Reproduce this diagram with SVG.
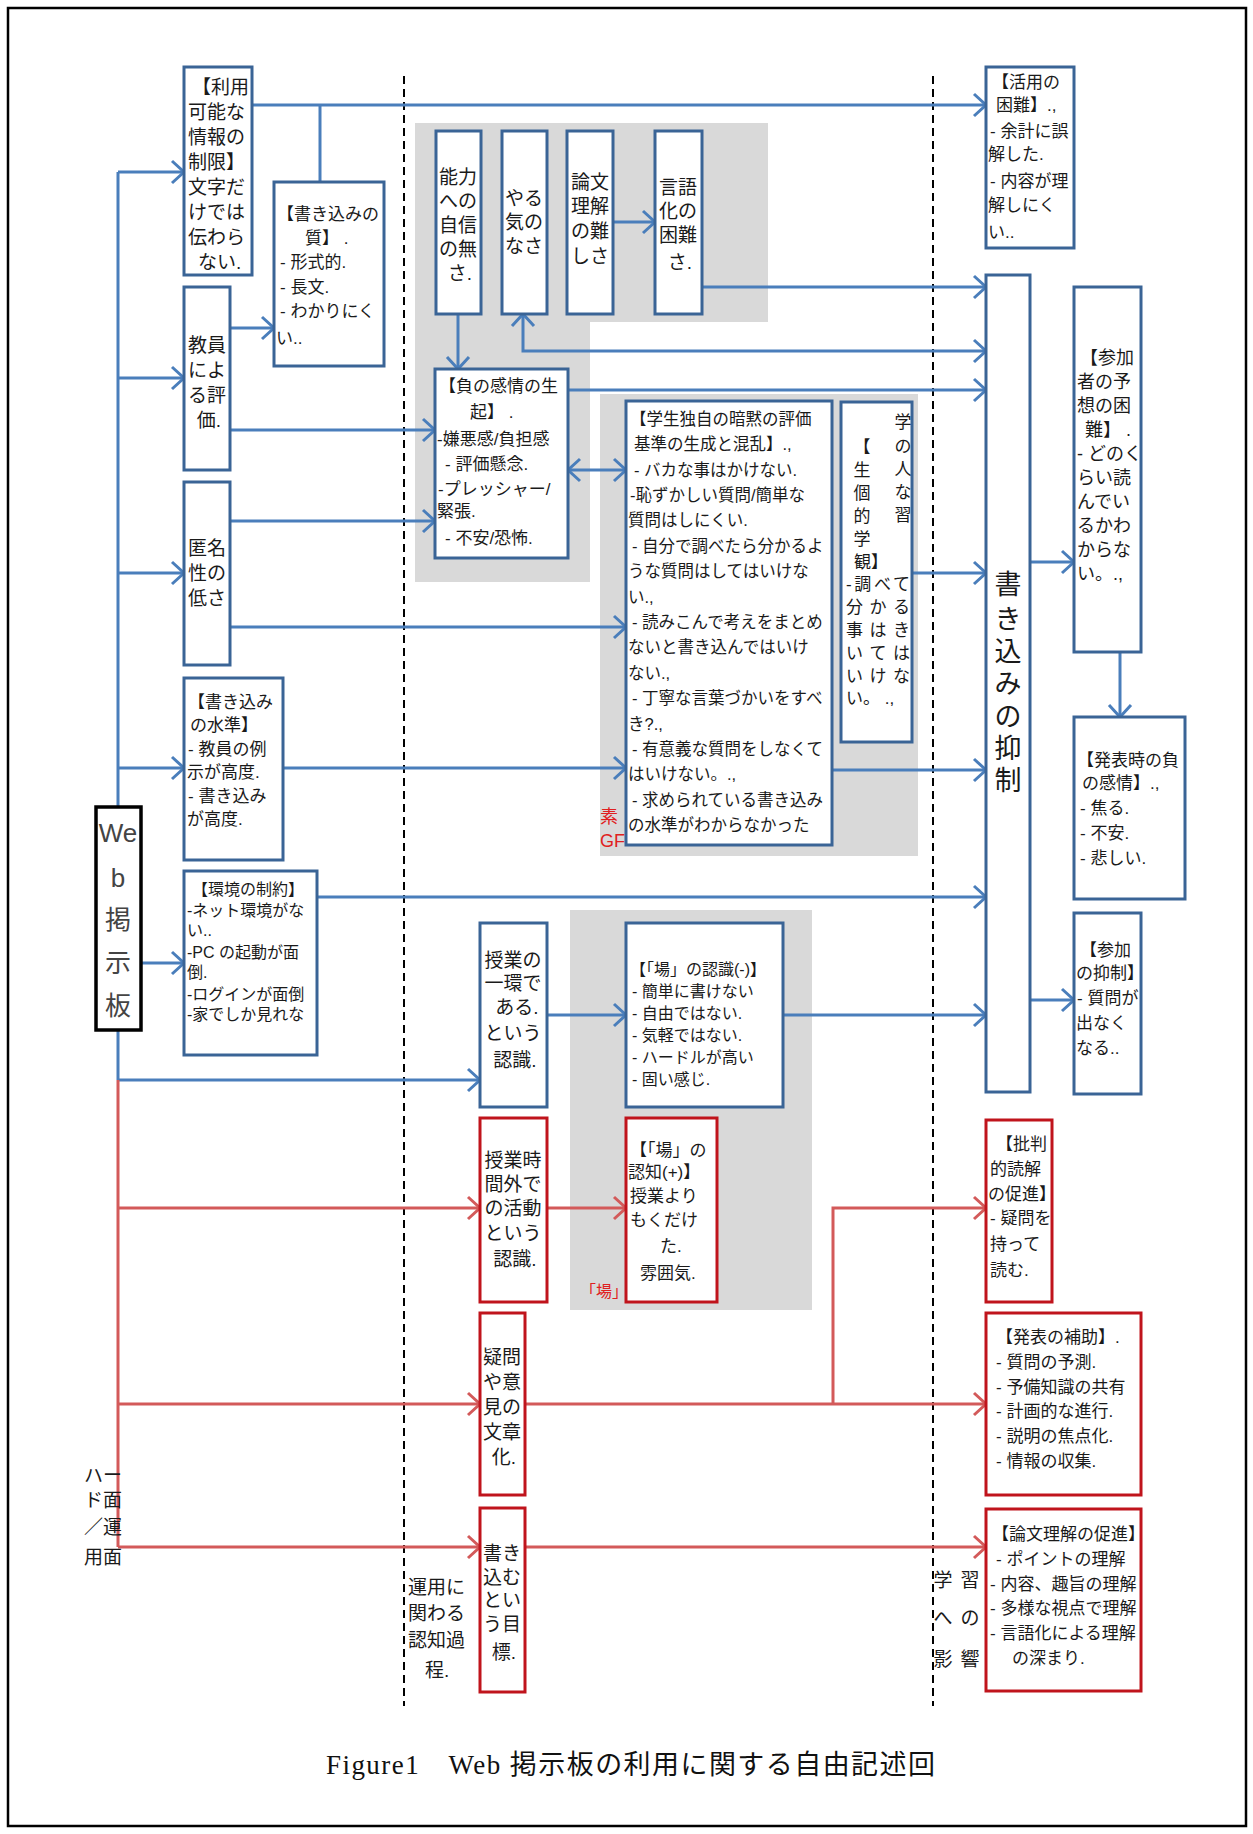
<svg xmlns="http://www.w3.org/2000/svg" width="1253" height="1834" viewBox="0 0 1253 1834">
<style>
.bb{fill:#fff;stroke:#3a6496;stroke-width:3}
.rb{fill:#fff;stroke:#c0141c;stroke-width:3}
.gr{fill:#d9d9d9}
.bl{fill:none;stroke:#4a7ebb;stroke-width:3}
.rl{fill:none;stroke:#d35a5a;stroke-width:3}
.t{font-family:"Liberation Sans","Noto Sans CJK JP",sans-serif;font-size:17px;fill:#1a1a1a}
.s19{font-size:19px}
.s16{font-size:16px}
.c{text-anchor:middle}
.red{fill:#e02020}
</style>
<defs>
<marker id="ab" markerUnits="userSpaceOnUse" markerWidth="18" markerHeight="26" refX="14" refY="13" orient="auto-start-reverse"><path d="M2,2 L14,13 L2,24" fill="none" stroke="#4a7ebb" stroke-width="3"/></marker>
<marker id="ar" markerUnits="userSpaceOnUse" markerWidth="18" markerHeight="26" refX="14" refY="13" orient="auto-start-reverse"><path d="M2,2 L14,13 L2,24" fill="none" stroke="#d35a5a" stroke-width="3"/></marker>
<clipPath id="cEnv"><rect x="185" y="872" width="131" height="182"/></clipPath>
<clipPath id="cRon"><rect x="987" y="1510" width="153" height="180"/></clipPath>
<clipPath id="cHih"><rect x="987" y="1121" width="64" height="180"/></clipPath>
<clipPath id="cSan"><rect x="1075" y="914" width="65" height="179"/></clipPath>
<clipPath id="cGak"><rect x="627" y="402" width="204" height="442"/></clipPath>
</defs>
<rect x="8" y="8" width="1238" height="1818" fill="#fff" stroke="#000" stroke-width="2.5"/>

<g id="backgrounds">
<path class="gr" d="M415,123 H768 V322 H590 V582 H415 Z"/>
<rect class="gr" x="600" y="394" width="318" height="462"/>
<rect class="gr" x="570" y="910" width="242" height="400"/>
</g>

<g id="dividers" stroke="#000" stroke-width="2" stroke-dasharray="8,5">
<line x1="404" y1="76" x2="404" y2="1706"/>
<line x1="933" y1="76" x2="933" y2="1706"/>
</g>

<g id="hidden-labels">
<text class="t red" x="600" y="823" style="font-size:18px">素</text>
<text class="t red" x="600" y="847" style="font-size:18px">GF</text>
<text class="t red" x="580" y="1297" style="font-size:16px">「場」</text>
</g>

<g id="connectors">
<path class="bl" d="M118,172 V1080"/>
<path class="bl" d="M118,172 H184" marker-end="url(#ab)"/>
<path class="bl" d="M118,378 H184" marker-end="url(#ab)"/>
<path class="bl" d="M118,573 H184" marker-end="url(#ab)"/>
<path class="bl" d="M118,768 H184" marker-end="url(#ab)"/>
<path class="bl" d="M141,963 H184" marker-end="url(#ab)"/>
<path class="bl" d="M118,1080 H480" marker-end="url(#ab)"/>
<path class="bl" d="M252,105 H986" marker-end="url(#ab)"/>
<path class="bl" d="M320,105 V182"/>
<path class="bl" d="M230,328 H274" marker-end="url(#ab)"/>
<path class="bl" d="M230,430 H435" marker-end="url(#ab)"/>
<path class="bl" d="M230,521 H435" marker-end="url(#ab)"/>
<path class="bl" d="M230,627 H626" marker-end="url(#ab)"/>
<path class="bl" d="M283,768 H626" marker-end="url(#ab)"/>
<path class="bl" d="M317,897 H986" marker-end="url(#ab)"/>
<path class="bl" d="M547,1015 H626" marker-end="url(#ab)"/>
<path class="bl" d="M783,1015 H986" marker-end="url(#ab)"/>
<path class="bl" d="M613,222 H655" marker-end="url(#ab)"/>
<path class="bl" d="M702,287 H986" marker-end="url(#ab)"/>
<path class="bl" d="M458,314 V369" marker-end="url(#ab)"/>
<path class="bl" d="M523,314 V351 H986" marker-start="url(#ab)" marker-end="url(#ab)"/>
<path class="bl" d="M568,390 H986" marker-end="url(#ab)"/>
<path class="bl" d="M568,470 H626" marker-start="url(#ab)" marker-end="url(#ab)"/>
<path class="bl" d="M912,573 H986" marker-end="url(#ab)"/>
<path class="bl" d="M832,770 H986" marker-end="url(#ab)"/>
<path class="bl" d="M1030,562 H1074" marker-end="url(#ab)"/>
<path class="bl" d="M1120,652 V717" marker-end="url(#ab)"/>
<path class="bl" d="M1030,1000 H1074" marker-end="url(#ab)"/>
<path class="rl" d="M118,1080 V1547"/>
<path class="rl" d="M118,1208 H480" marker-end="url(#ar)"/>
<path class="rl" d="M547,1208 H626" marker-end="url(#ar)"/>
<path class="rl" d="M118,1404 H480" marker-end="url(#ar)"/>
<path class="rl" d="M525,1404 H986" marker-end="url(#ar)"/>
<path class="rl" d="M833,1404 V1208 H986" marker-end="url(#ar)"/>
<path class="rl" d="M118,1547 H480" marker-end="url(#ar)"/>
<path class="rl" d="M525,1547 H986" marker-end="url(#ar)"/>
</g>

<g id="n-web">
<rect x="96" y="807" width="45" height="223" fill="#fff" stroke="#000" stroke-width="3.5"/>
<text class="t c" x="118" y="842" style="font-size:26px;fill:#444">We</text>
<text class="t c" x="118" y="887" style="font-size:26px;fill:#444">b</text>
<text class="t c" x="118" y="929" style="font-size:26px;fill:#444">掲</text>
<text class="t c" x="118" y="972" style="font-size:26px;fill:#444">示</text>
<text class="t c" x="118" y="1015" style="font-size:26px;fill:#444">板</text>
</g>

<g id="n-riyou">
<rect class="bb" x="184" y="67" width="68" height="208"/>
<text class="t s19" x="192" y="94">【利用</text>
<text class="t s19" x="188" y="119">可能な</text>
<text class="t s19" x="188" y="144">情報の</text>
<text class="t s19" x="188" y="169">制限】</text>
<text class="t s19" x="188" y="194">文字だ</text>
<text class="t s19" x="188" y="219">けでは</text>
<text class="t s19" x="188" y="244">伝わら</text>
<text class="t s19" x="198" y="269">ない.</text>
</g>

<g id="n-shitsu">
<rect class="bb" x="274" y="182" width="110" height="184"/>
<text class="t" x="277" y="220">【書き込みの</text>
<text class="t" x="305" y="244">質】 .</text>
<text class="t" x="280" y="268">- 形式的.</text>
<text class="t" x="280" y="293">- 長文.</text>
<text class="t" x="280" y="317">- わかりにく</text>
<text class="t" x="276" y="344">い..</text>
</g>

<g id="n-kyouin">
<rect class="bb" x="184" y="287" width="46" height="183"/>
<text class="t s19 c" x="207" y="352">教員</text>
<text class="t s19 c" x="207" y="377">によ</text>
<text class="t s19 c" x="207" y="402">る評</text>
<text class="t s19 c" x="209" y="427">価.</text>
</g>

<g id="n-tokumei">
<rect class="bb" x="184" y="482" width="46" height="183"/>
<text class="t s19 c" x="207" y="555">匿名</text>
<text class="t s19 c" x="207" y="580">性の</text>
<text class="t s19 c" x="207" y="605">低さ</text>
</g>

<g id="n-suijun">
<rect class="bb" x="184" y="678" width="99" height="182"/>
<text class="t" x="188" y="708">【書き込み</text>
<text class="t" x="190" y="731">の水準】</text>
<text class="t" x="188" y="755">- 教員の例</text>
<text class="t" x="187" y="778">示が高度.</text>
<text class="t" x="188" y="802">- 書き込み</text>
<text class="t" x="187" y="825">が高度.</text>
</g>

<g id="n-kankyou">
<rect class="bb" x="184" y="871" width="133" height="184"/>
<g clip-path="url(#cEnv)">
<text class="t s16" x="192" y="895">【環境の制約】</text>
<text class="t s16" x="187" y="916">-ネット環境がな</text>
<text class="t s16" x="187" y="936">い..</text>
<text class="t s16" x="187" y="958">-PC の起動が面</text>
<text class="t s16" x="187" y="978">倒.</text>
<text class="t s16" x="187" y="1000">-ログインが面倒</text>
<text class="t s16" x="187" y="1020">-家でしか見れな</text>
</g>
</g>

<g id="n-nouryoku">
<rect class="bb" x="436" y="131" width="45" height="183"/>
<text class="t s19 c" x="458" y="184">能力</text>
<text class="t s19 c" x="458" y="208">への</text>
<text class="t s19 c" x="458" y="232">自信</text>
<text class="t s19 c" x="458" y="256">の無</text>
<text class="t s19 c" x="460" y="280">さ.</text>
</g>

<g id="n-yaruki">
<rect class="bb" x="502" y="131" width="45" height="183"/>
<text class="t s19 c" x="524" y="205">やる</text>
<text class="t s19 c" x="524" y="229">気の</text>
<text class="t s19 c" x="524" y="253">なさ</text>
</g>

<g id="n-ronbun">
<rect class="bb" x="567" y="131" width="46" height="183"/>
<text class="t s19 c" x="590" y="189">論文</text>
<text class="t s19 c" x="590" y="213">理解</text>
<text class="t s19 c" x="590" y="238">の難</text>
<text class="t s19 c" x="590" y="263">しさ</text>
</g>

<g id="n-gengo">
<rect class="bb" x="655" y="131" width="47" height="183"/>
<text class="t s19 c" x="678" y="194">言語</text>
<text class="t s19 c" x="678" y="218">化の</text>
<text class="t s19 c" x="678" y="242">困難</text>
<text class="t s19 c" x="680" y="269">さ.</text>
</g>

<g id="n-fu">
<rect class="bb" x="435" y="369" width="133" height="189"/>
<text class="t" x="439" y="392">【負の感情の生</text>
<text class="t" x="470" y="418">起】 .</text>
<text class="t" x="437" y="445">-嫌悪感/負担感</text>
<text class="t" x="445" y="470">- 評価懸念.</text>
<text class="t" x="438" y="495">-プレッシャー/</text>
<text class="t" x="437" y="517">緊張.</text>
<text class="t" x="445" y="544">- 不安/恐怖.</text>
</g>

<g id="n-gakusei">
<rect class="bb" x="626" y="401" width="206" height="444"/>
<g clip-path="url(#cGak)" style="font-size:16.5px">
<text class="t" x="630" y="425" style="font-size:16.5px">【学生独自の暗黙の評価</text>
<text class="t" x="634" y="450" style="font-size:16.5px">基準の生成と混乱】.,</text>
<text class="t" x="634" y="476" style="font-size:16.5px">- バカな事はかけない.</text>
<text class="t" x="630" y="501" style="font-size:16.5px">-恥ずかしい質問/簡単な</text>
<text class="t" x="628" y="526" style="font-size:16.5px">質問はしにくい.</text>
<text class="t" x="632" y="552" style="font-size:16.5px">- 自分で調べたら分かるよ</text>
<text class="t" x="628" y="577" style="font-size:16.5px">うな質問はしてはいけな</text>
<text class="t" x="628" y="603" style="font-size:16.5px">い.,</text>
<text class="t" x="632" y="628" style="font-size:16.5px">- 読みこんで考えをまとめ</text>
<text class="t" x="628" y="653" style="font-size:16.5px">ないと書き込んではいけ</text>
<text class="t" x="628" y="679" style="font-size:16.5px">ない.,</text>
<text class="t" x="632" y="704" style="font-size:16.5px">- 丁寧な言葉づかいをすべ</text>
<text class="t" x="628" y="730" style="font-size:16.5px">き?.,</text>
<text class="t" x="632" y="755" style="font-size:16.5px">- 有意義な質問をしなくて</text>
<text class="t" x="628" y="780" style="font-size:16.5px">はいけない。.,</text>
<text class="t" x="632" y="806" style="font-size:16.5px">- 求められている書き込み</text>
<text class="t" x="628" y="831" style="font-size:16.5px">の水準がわからなかった</text>
</g>
</g>

<g id="n-gakushukan">
<rect class="bb" x="841" y="402" width="71" height="340"/>
<text class="t c" x="903" y="428">学</text>
<text class="t c" x="903" y="452">の</text>
<text class="t c" x="903" y="475">人</text>
<text class="t c" x="903" y="498">な</text>
<text class="t c" x="903" y="521">習</text>
<text class="t c" x="862" y="453">【</text>
<text class="t c" x="862" y="476">生</text>
<text class="t c" x="862" y="499">個</text>
<text class="t c" x="862" y="522">的</text>
<text class="t c" x="862" y="545">学</text>
<text class="t" x="854" y="568">観】</text>
<text class="t" x="846" y="590" textLength="64" lengthAdjust="spacing">-調べて</text>
<text class="t" x="846" y="613" textLength="64" lengthAdjust="spacing">分かる</text>
<text class="t" x="846" y="636" textLength="64" lengthAdjust="spacing">事はき</text>
<text class="t" x="846" y="659" textLength="64" lengthAdjust="spacing">いては</text>
<text class="t" x="846" y="682" textLength="64" lengthAdjust="spacing">いけな</text>
<text class="t" x="846" y="704">い。 .,</text>
</g>

<g id="n-ikkan">
<rect class="bb" x="480" y="923" width="67" height="184"/>
<text class="t s19 c" x="513" y="967">授業の</text>
<text class="t s19 c" x="513" y="990">一環で</text>
<text class="t s19 c" x="517" y="1014">ある.</text>
<text class="t s19 c" x="513" y="1040">という</text>
<text class="t s19 c" x="515" y="1067">認識.</text>
</g>

<g id="n-ba-minus">
<rect class="bb" x="626" y="923" width="157" height="184"/>
<text class="t s16" x="630" y="975">【「場」の認識(-)】</text>
<text class="t s16" x="632" y="997">- 簡単に書けない</text>
<text class="t s16" x="632" y="1019">- 自由ではない.</text>
<text class="t s16" x="632" y="1041">- 気軽ではない.</text>
<text class="t s16" x="632" y="1063">- ハードルが高い</text>
<text class="t s16" x="632" y="1085">- 固い感じ.</text>
</g>

<g id="n-jikangai">
<rect class="rb" x="480" y="1118" width="67" height="184"/>
<text class="t s19 c" x="513" y="1167">授業時</text>
<text class="t s19 c" x="513" y="1191">間外で</text>
<text class="t s19 c" x="513" y="1215">の活動</text>
<text class="t s19 c" x="513" y="1240">という</text>
<text class="t s19 c" x="515" y="1266">認識.</text>
</g>

<g id="n-ba-plus">
<rect class="rb" x="626" y="1118" width="91" height="184"/>
<text class="t" x="630" y="1156">【「場」の</text>
<text class="t" x="628" y="1178">認知(+)】</text>
<text class="t" x="630" y="1202">授業より</text>
<text class="t" x="630" y="1226">もくだけ</text>
<text class="t" x="660" y="1252">た.</text>
<text class="t" x="640" y="1279">雰囲気.</text>
</g>

<g id="n-bunshouka">
<rect class="rb" x="480" y="1313" width="45" height="182"/>
<text class="t s19 c" x="502" y="1364">疑問</text>
<text class="t s19 c" x="502" y="1389">や意</text>
<text class="t s19 c" x="502" y="1414">見の</text>
<text class="t s19 c" x="502" y="1439">文章</text>
<text class="t s19 c" x="504" y="1464">化.</text>
</g>

<g id="n-mokuhyou">
<rect class="rb" x="480" y="1508" width="45" height="184"/>
<text class="t s19 c" x="502" y="1560">書き</text>
<text class="t s19 c" x="502" y="1584">込む</text>
<text class="t s19 c" x="502" y="1607">とい</text>
<text class="t s19 c" x="502" y="1631">う目</text>
<text class="t s19 c" x="504" y="1659">標.</text>
</g>

<g id="n-katsuyou">
<rect class="bb" x="986" y="67" width="88" height="181"/>
<text class="t" x="992" y="88">【活用の</text>
<text class="t" x="996" y="111">困難】.,</text>
<text class="t" x="990" y="137">- 余計に誤</text>
<text class="t" x="988" y="160">解した.</text>
<text class="t" x="990" y="187">- 内容が理</text>
<text class="t" x="988" y="211">解しにく</text>
<text class="t" x="988" y="238">い..</text>
</g>

<g id="n-yokusei">
<rect class="bb" x="986" y="275" width="44" height="817"/>
<text class="t c" x="1008" y="594" style="font-size:27px">書</text>
<text class="t c" x="1008" y="629" style="font-size:27px">き</text>
<text class="t c" x="1008" y="661" style="font-size:27px">込</text>
<text class="t c" x="1008" y="693" style="font-size:27px">み</text>
<text class="t c" x="1008" y="726" style="font-size:27px">の</text>
<text class="t c" x="1008" y="758" style="font-size:27px">抑</text>
<text class="t c" x="1008" y="790" style="font-size:27px">制</text>
</g>

<g id="n-yosou">
<rect class="bb" x="1074" y="287" width="67" height="365"/>
<text class="t" x="1080" y="364" style="font-size:18px">【参加</text>
<text class="t" x="1077" y="388" style="font-size:18px">者の予</text>
<text class="t" x="1077" y="412" style="font-size:18px">想の困</text>
<text class="t" x="1085" y="436" style="font-size:18px">難】 .</text>
<text class="t" x="1077" y="460" style="font-size:18px">- どのく</text>
<text class="t" x="1077" y="484" style="font-size:18px">らい読</text>
<text class="t" x="1077" y="508" style="font-size:18px">んでい</text>
<text class="t" x="1077" y="532" style="font-size:18px">るかわ</text>
<text class="t" x="1077" y="556" style="font-size:18px">からな</text>
<text class="t" x="1077" y="580" style="font-size:18px">い。.,</text>
</g>

<g id="n-happyouji">
<rect class="bb" x="1074" y="717" width="111" height="182"/>
<text class="t" x="1077" y="766">【発表時の負</text>
<text class="t" x="1082" y="789">の感情】.,</text>
<text class="t" x="1080" y="814">- 焦る.</text>
<text class="t" x="1080" y="839">- 不安.</text>
<text class="t" x="1080" y="864">- 悲しい.</text>
</g>

<g id="n-sanka">
<rect class="bb" x="1074" y="913" width="67" height="181"/>
<g clip-path="url(#cSan)">
<text class="t" x="1080" y="956">【参加</text>
<text class="t" x="1076" y="979">の抑制】</text>
<text class="t" x="1077" y="1004">- 質問が</text>
<text class="t" x="1076" y="1029">出なく</text>
<text class="t" x="1076" y="1054">なる..</text>
</g>
</g>

<g id="n-hihan">
<rect class="rb" x="986" y="1120" width="66" height="182"/>
<g clip-path="url(#cHih)">
<text class="t" x="996" y="1150">【批判</text>
<text class="t" x="990" y="1175">的読解</text>
<text class="t" x="988" y="1200">の促進】</text>
<text class="t" x="990" y="1224">- 疑問を</text>
<text class="t" x="990" y="1250">持って</text>
<text class="t" x="990" y="1276">読む.</text>
</g>
</g>

<g id="n-hojo">
<rect class="rb" x="986" y="1313" width="155" height="182"/>
<text class="t" x="996" y="1343">【発表の補助】.</text>
<text class="t" x="996" y="1368">- 質問の予測.</text>
<text class="t" x="996" y="1393">- 予備知識の共有</text>
<text class="t" x="996" y="1417">- 計画的な進行.</text>
<text class="t" x="996" y="1442">- 説明の焦点化.</text>
<text class="t" x="996" y="1467">- 情報の収集.</text>
</g>

<g id="n-rikai">
<rect class="rb" x="986" y="1509" width="155" height="182"/>
<g clip-path="url(#cRon)">
<text class="t" x="992" y="1540">【論文理解の促進】</text>
<text class="t" x="996" y="1565">- ポイントの理解</text>
<text class="t" x="990" y="1590">- 内容、趣旨の理解</text>
<text class="t" x="990" y="1614">- 多様な視点で理解</text>
<text class="t" x="990" y="1639">- 言語化による理解</text>
<text class="t" x="1012" y="1664">の深まり.</text>
</g>
</g>

<g id="labels">
<text class="t s19" x="84" y="1482">ハー</text>
<text class="t s19" x="84" y="1507">ド面</text>
<text class="t s19" x="84" y="1534">／運</text>
<text class="t s19" x="84" y="1564">用面</text>
<text class="t s19" x="408" y="1594">運用に</text>
<text class="t s19" x="408" y="1620">関わる</text>
<text class="t s19" x="408" y="1647">認知過</text>
<text class="t s19" x="425" y="1677">程.</text>
<text class="t s19 c" x="943" y="1587">学</text>
<text class="t s19 c" x="970" y="1587">習</text>
<text class="t s19 c" x="943" y="1625">へ</text>
<text class="t s19 c" x="970" y="1625">の</text>
<text class="t s19 c" x="943" y="1666">影</text>
<text class="t s19 c" x="970" y="1666">響</text>
</g>

<text x="326" y="1774" textLength="609" lengthAdjust="spacing" style="font-family:'Liberation Serif','Noto Sans CJK JP',serif;font-size:27px;fill:#111">Figure1　Web 掲示板の利用に関する自由記述回</text>
</svg>
